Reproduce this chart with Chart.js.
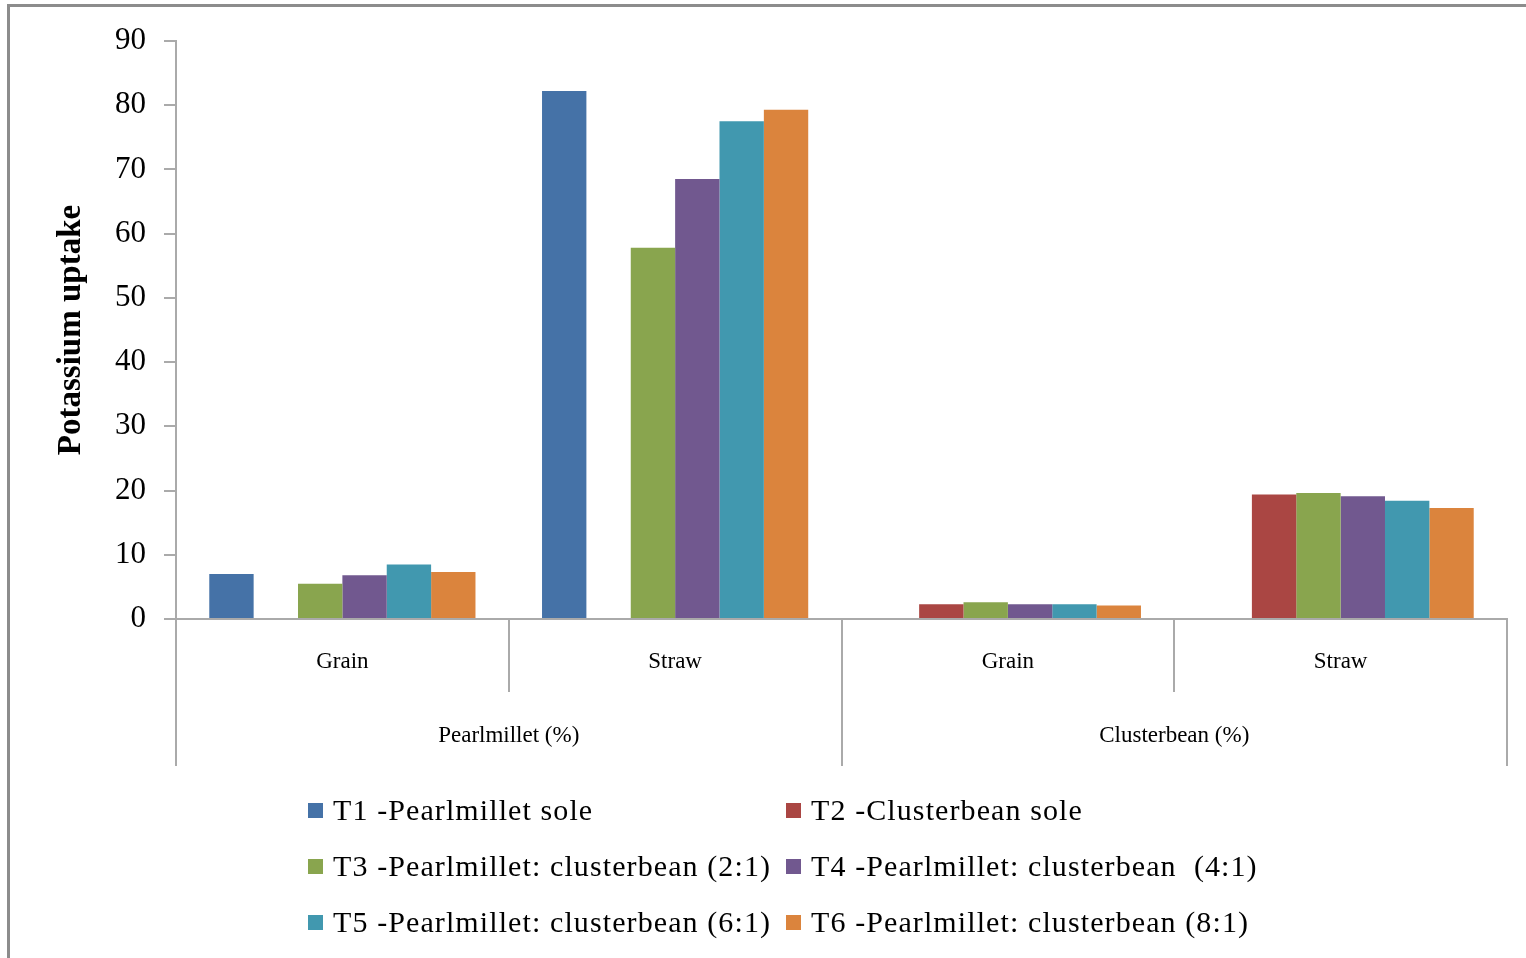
<!DOCTYPE html>
<html>
<head>
<meta charset="utf-8">
<script src="https://cdn.jsdelivr.net/npm/chart.js@4.4.1/dist/chart.umd.min.js"></script>
<style>
  html, body { margin: 0; padding: 0; background: #fff; width: 1526px; height: 958px; overflow: hidden; }
  #frame { position: absolute; left: 7px; top: 4px; width: 1560px; height: 1000px; border: 3px solid #8c8c8c; box-sizing: border-box; }
  #chart { position: absolute; left: 0; top: 0; }
  #legend { position: absolute; left: 0; top: 0; font-family: "Liberation Serif", "Times New Roman", serif; font-size: 30px; color: #000; }
  .item { position: absolute; display: flex; align-items: center; white-space: pre; height: 40px; letter-spacing: 1.1px; }
  .box { width: 15px; height: 15px; margin-right: 10px; flex: none; }
</style>
</head>
<body>
<div id="frame"></div>
<canvas id="chart" width="1526" height="958"></canvas>
<div id="legend"></div>
<script>
// Sub-categories (inner axis) and crop groups (outer axis)
const categories = ["Grain", "Straw", "Grain", "Straw"];
const groups = ["Pearlmillet (%)", "Clusterbean (%)"];

// Treatment names
const treatments = [
  "T1 -Pearlmillet sole",
  "T2 -Clusterbean sole",
  "T3 -Pearlmillet: clusterbean (2:1)",
  "T4 -Pearlmillet: clusterbean  (4:1)",
  "T5 -Pearlmillet: clusterbean (6:1)",
  "T6 -Pearlmillet: clusterbean (8:1)"
];

// Potassium uptake per treatment: [PM grain, PM straw, CB grain, CB straw]
const t1 = [7.0, 82.2, null, null];
const t2 = [null, null, 2.3, 19.4];
const t3 = [5.5, 57.8, 2.6, 19.6];
const t4 = [6.8, 68.5, 2.3, 19.1];
const t5 = [8.5, 77.5, 2.3, 18.4];
const t6 = [7.3, 79.3, 2.1, 17.3];

// Value axis ticks
const yTicks = [0, 10, 20, 30, 40, 50, 60, 70, 80, 90];

const seriesValues = [t1, t2, t3, t4, t5, t6];
const colors = ["#4572A7", "#AA4643", "#89A54E", "#71588F", "#4198AF", "#DB843D"];

const axisGray = "#aaaaaa";
const serif = "'Liberation Serif', 'Times New Roman', serif";

const datasets = seriesValues.map((vals, i) => ({
  label: treatments[i],
  data: vals,
  backgroundColor: colors[i],
  borderWidth: 0,
  barPercentage: 1.0,
  categoryPercentage: 0.8
}));

const chart = new Chart(document.getElementById("chart"), {
  type: "bar",
  data: { labels: categories, datasets },
  options: {
    responsive: false,
    devicePixelRatio: 1,
    animation: false,
    layout: { padding: { left: 0, top: 41, right: 19, bottom: 192 } },
    plugins: {
      legend: { display: false },
      tooltip: { enabled: false }
    },
    scales: {
      x: {
        type: "category",
        position: "bottom",
        weight: 0,
        grid: {
          offset: true,
          drawOnChartArea: false,
          drawTicks: true,
          tickLength: 73,
          color: axisGray,
          lineWidth: 2
        },
        border: { display: true, color: axisGray, width: 2 },
        ticks: {
          padding: -44,
          color: "#000",
          font: { family: serif, size: 23 },
          maxRotation: 0,
          autoSkip: false
        },
        afterFit: (scale) => { scale.height = 73; }
      },
      x2: {
        type: "category",
        labels: groups,
        position: "bottom",
        weight: 1,
        grid: {
          offset: true,
          drawOnChartArea: false,
          drawTicks: true,
          tickLength: 74,
          color: axisGray,
          lineWidth: 2
        },
        border: { display: false },
        ticks: {
          padding: -44,
          color: "#000",
          font: { family: serif, size: 23 },
          maxRotation: 0,
          autoSkip: false
        },
        afterFit: (scale) => { scale.height = 74; }
      },
      y: {
        min: 0,
        max: 90,
        afterBuildTicks: (scale) => { scale.ticks = yTicks.map(v => ({ value: v })); },
        grid: {
          drawOnChartArea: false,
          drawTicks: true,
          tickLength: 12,
          color: axisGray,
          lineWidth: 2
        },
        border: { display: true, color: axisGray, width: 2 },
        ticks: {
          padding: 18,
          color: "#000",
          font: { family: serif, size: 31 }
        },
        title: {
          display: true,
          text: "Potassium uptake",
          color: "#000",
          font: { family: serif, size: 33, weight: "bold" },
          padding: { top: 52, bottom: 0 }
        },
        afterFit: (scale) => { scale.width = 176; }
      }
    }
  }
});

// Two-column legend built from the chart's datasets
const legend = document.getElementById("legend");
const colX = [308, 786];
const rowY = [810, 866, 922];
chart.data.datasets.forEach((ds, i) => {
  const item = document.createElement("div");
  item.className = "item";
  item.style.left = colX[i % 2] + "px";
  item.style.top = (rowY[Math.floor(i / 2)] - 20) + "px";
  const box = document.createElement("span");
  box.className = "box";
  box.style.background = ds.backgroundColor;
  const txt = document.createElement("span");
  txt.textContent = ds.label;
  item.appendChild(box);
  item.appendChild(txt);
  legend.appendChild(item);
});
</script>
</body>
</html>
